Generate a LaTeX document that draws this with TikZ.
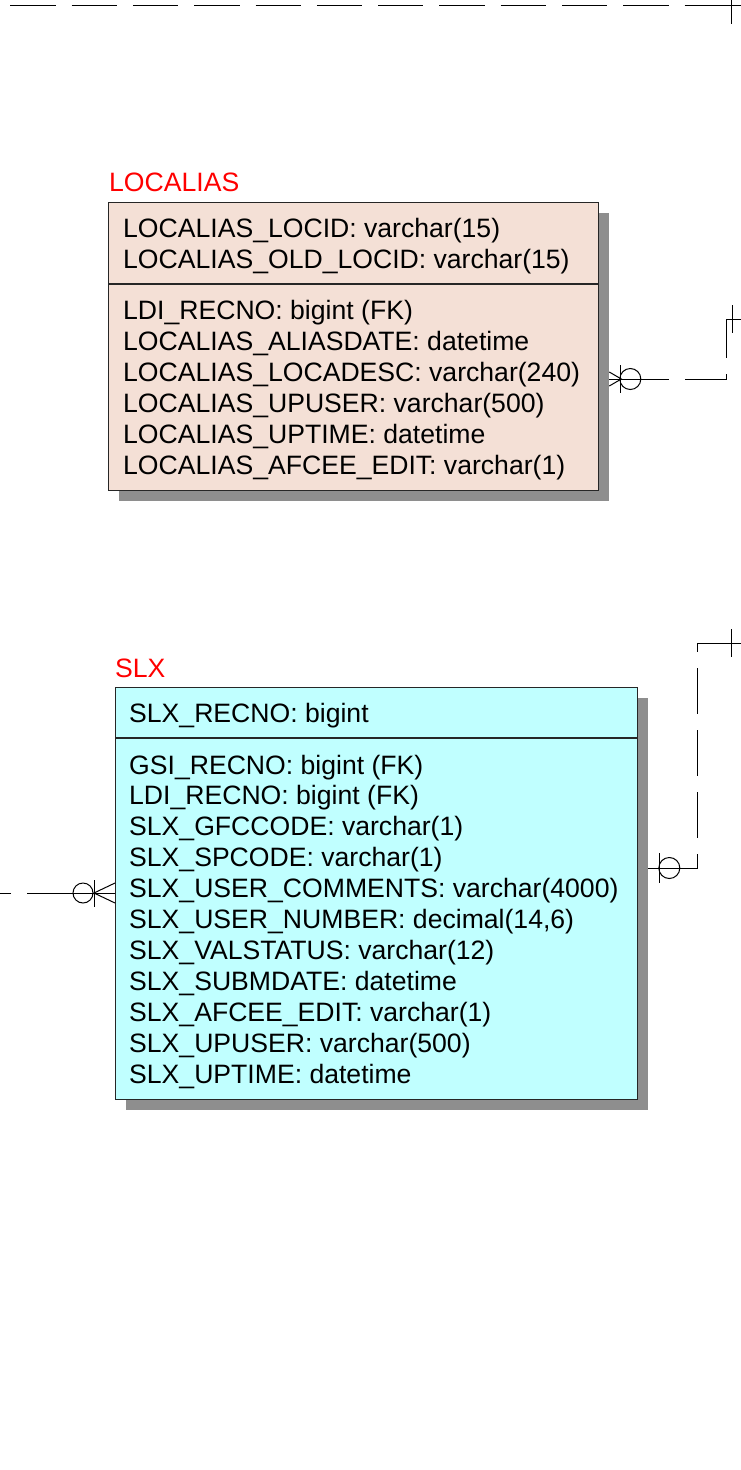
\documentclass[tikz,border=0pt]{standalone}
\usepackage{fontspec}
\setmainfont{Liberation Sans}
\usetikzlibrary{shadows}
\definecolor{locfill}{HTML}{F4E0D6}
\definecolor{slxfill}{HTML}{C0FFFF}
\definecolor{shadowgray}{HTML}{8E8E8E}
\definecolor{titlered}{HTML}{FF0000}
\tikzset{
  entity/.style={draw=black!85, line width=1.3pt, rectangle, inner sep=0pt, anchor=north west,
    drop shadow={shadow xshift=10pt, shadow yshift=-10pt, fill=shadowgray, opacity=1}},
  attr/.style={anchor=base west, inner sep=0pt, font=\fontsize{26.6}{31}\selectfont},
  enttitle/.style={attr, text=titlered},
  sepline/.style={line width=1.3pt, draw=black!85},
  rel/.style={line width=1pt, dash pattern=on 46pt off 16pt},
  card/.style={line width=1pt}
}
\begin{document}
\begin{tikzpicture}[x=1pt, y=-1pt]
\useasboundingbox (0,0) rectangle (740,1470);
% Khoảng cách dòng
\def\rowh{31}
% Bảng LOCALIAS
\node[enttitle] (loctitle) at (109,191) {LOCALIAS};
\node[entity, fill=locfill, minimum width=490pt, minimum height=288pt] (loc) at (108,202) {};
\draw[sepline] (loc.west |- 0,284) -- (loc.east |- 0,284);
\foreach \t [count=\i] in {LOCALIAS\_LOCID: varchar(15), LOCALIAS\_OLD\_LOCID: varchar(15)}
  \node[attr] (lockey\i) at (123,{237+\rowh*(\i-1)}) {\t};
\foreach \t [count=\i] in {LDI\_RECNO: bigint (FK), LOCALIAS\_ALIASDATE: datetime,
    LOCALIAS\_LOCADESC: varchar(240), LOCALIAS\_UPUSER: varchar(500),
    LOCALIAS\_UPTIME: datetime, LOCALIAS\_AFCEE\_EDIT: varchar(1)}
  \node[attr] (locatt\i) at (123,{319+\rowh*(\i-1)}) {\t};
% Bảng SLX
\node[enttitle] (slxtitle) at (115,677) {SLX};
\node[entity, fill=slxfill, minimum width=522pt, minimum height=412pt] (slx) at (115,687) {};
\draw[sepline] (slx.west |- 0,738) -- (slx.east |- 0,738);
\node[attr] (slxkey1) at (129,722) {SLX\_RECNO: bigint};
\foreach \t [count=\i] in {GSI\_RECNO: bigint (FK), LDI\_RECNO: bigint (FK),
    SLX\_GFCCODE: varchar(1), SLX\_SPCODE: varchar(1),
    SLX\_USER\_COMMENTS: varchar(4000), {SLX\_USER\_NUMBER: decimal(14,6)},
    SLX\_VALSTATUS: varchar(12), SLX\_SUBMDATE: datetime,
    SLX\_AFCEE\_EDIT: varchar(1), SLX\_UPUSER: varchar(500), SLX\_UPTIME: datetime}
  \node[attr] (slxatt\i) at (129,{774+30.9*(\i-1)}) {\t};
% Đường quan hệ phía trên
\coordinate (topin) at (0,5);
\coordinate (topout) at (745,5);
\draw[rel, dash pattern=on 45.3pt off 16pt, dash phase=51pt] (topin) -- (topout);
\draw[card] (729,5) -- (topout);
\draw[card] (731,-14) -- (731,24);
% LOCALIAS -- ra ngoài bên phải
\coordinate (locR) at ([xshift=10pt]loc.east |- 0,379);
\coordinate (locout) at (745,319);
\draw[card] ([yshift=7pt]locR) -- ++(12,7) -- ([yshift=-7pt]locR);
\draw[card] ([xshift=11pt,yshift=14pt]locR) -- ++(0,28);
\draw[card] ([xshift=21pt]locR) circle[radius=10.5pt];
\draw[card] (locR) -- ++(32,0);
\draw[rel, dash phase=18pt] ([xshift=32pt]locR) -| (726,319) -- (locout);
\draw[card] (726,319) -- (locout);
\draw[card] ([xshift=-13pt,yshift=14pt]locout) -- ++(0,28);
% SLX -- ra ngoài bên phải
\coordinate (slxR) at ([xshift=10pt]slx.east |- 0,868);
\coordinate (slxout) at (745,643);
\draw[card] ([xshift=11pt,yshift=15pt]slxR) -- ++(0,30);
\draw[card] ([xshift=21pt]slxR) circle[radius=10.5pt];
\draw[card] (slxR) -- ++(32,0);
\draw[rel, dash phase=15pt] ([xshift=32pt]slxR) -| (697,643) -- (slxout);
\draw[card] (697,643) -- (slxout);
\draw[card] ([xshift=-14pt,yshift=14pt]slxout) -- ++(0,28);
% SLX -- ra ngoài bên trái
\coordinate (slxL) at (slx.west |- 0,893);
\coordinate (slxin) at (0,893);
\draw[card] ([yshift=10pt]slxL) -- ++(-21,10) -- ([yshift=-10pt]slxL);
\draw[card] ([xshift=-21pt,yshift=13pt]slxL) -- ++(0,27);
\draw[card] ([xshift=-32pt]slxL) circle[radius=10pt];
\draw[card] (slxL) -- ++(-42,0);
\draw[rel] ([xshift=-42pt]slxL) -- (slxin);
\end{tikzpicture}
\end{document}
